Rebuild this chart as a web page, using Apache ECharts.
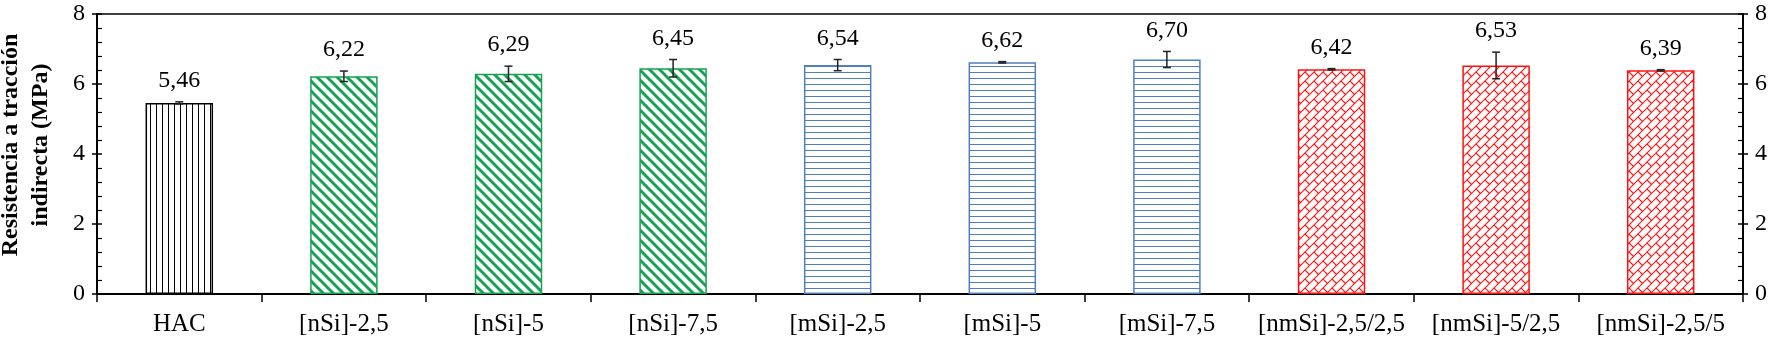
<!DOCTYPE html>
<html>
<head>
<meta charset="utf-8">
<script src="https://cdn.jsdelivr.net/npm/echarts@6/dist/echarts.min.js"></script>
<style>
html,body{margin:0;padding:0;background:#fff;}
#grafico{width:1778px;height:345px;}
</style>
</head>
<body>
<div id="grafico"></div>
<script>
/* datos */
var categorias = ['HAC','[nSi]-2,5','[nSi]-5','[nSi]-7,5','[mSi]-2,5','[mSi]-5','[mSi]-7,5','[nmSi]-2,5/2,5','[nmSi]-5/2,5','[nmSi]-2,5/5'];
var valores = [5.46,6.22,6.29,6.45,6.54,6.62,6.70,6.42,6.53,6.39];
var errores = [0.03,0.15,0.22,0.25,0.16,0.02,0.23,0.02,0.38,0.02];
var grupos = [0,1,1,1,2,2,2,3,3,3];
var ejeY = {min:0, max:8, intervalo:2};

var fuente = "'Liberation Serif','Times New Roman',serif";

/* tramas de relleno */
function trama(tipo, color){
    var c = document.createElement('canvas');
    var ctx = c.getContext('2d');
    var s;
    if(tipo=='vertical'){
        s = 6; c.width = s; c.height = s;
        ctx.fillStyle = color; ctx.fillRect(0,0,1,s);
    }else if(tipo=='horizontal'){
        s = 6; c.width = s; c.height = s;
        ctx.fillStyle = color; ctx.fillRect(0,0,s,1);
    }else if(tipo=='diagonal'){
        s = 10; c.width = s; c.height = s;
        ctx.strokeStyle = color; ctx.lineWidth = 3;
        [-s,0,s].forEach(function(d){
            ctx.beginPath(); ctx.moveTo(d-2,-2); ctx.lineTo(d+s+2,s+2); ctx.stroke();
        });
    }else{
        s = 9; c.width = s; c.height = s;
        ctx.strokeStyle = color; ctx.lineWidth = 1.1;
        [-s,0,s].forEach(function(d){
            ctx.beginPath(); ctx.moveTo(d-2,s+2); ctx.lineTo(d+s+2,-2); ctx.stroke();
        });
        ctx.beginPath(); ctx.moveTo(0,0); ctx.lineTo(s/2,s/2); ctx.stroke();
    }
    return {image:c, repeat:'repeat'};
}

var estilos = [
    {relleno: trama('vertical','#000'), borde:'#000'},
    {relleno: trama('diagonal','#14a352'), borde:'#14a352'},
    {relleno: trama('horizontal','#4f7fbf'), borde:'#4f7fbf'},
    {relleno: trama('ladrillo','#ff1010'), borde:'#ff1010'}
];

var barras = valores.map(function(v,i){
    var e = estilos[grupos[i]];
    return {
        value: v,
        itemStyle: {color: e.relleno, borderColor: e.borde, borderWidth: 1.5}
    };
});

var ejeBase = {
    type: 'value',
    min: ejeY.min,
    max: ejeY.max,
    interval: ejeY.intervalo,
    splitLine: {show:false},
    axisLine: {show:true, lineStyle:{color:'#000', width:1.5}}
};

function copia(o, extra){
    var r = JSON.parse(JSON.stringify(o));
    for(var k in extra){ r[k] = extra[k]; }
    return r;
}

var option = {
    animation: false,
    backgroundColor: '#fff',
    grid: {
        left: 97, right: 35, top: 14, bottom: 51,
        show: true, borderColor: '#000', borderWidth: 1.5
    },
    xAxis: {
        type: 'category',
        data: categorias,
        axisLine: {lineStyle:{color:'#000', width:2}},
        axisTick: {show:true, length:8, lineStyle:{color:'#000', width:1.5}},
        axisLabel: {color:'#000', fontFamily:fuente, fontSize:25, margin:18, interval:0}
    },
    yAxis: [
        copia(ejeBase, {
            position: 'left',
            axisTick: {show:true, inside:false, length:5, lineStyle:{color:'#000', width:1.5}},
            axisLabel: {color:'#000', fontFamily:fuente, fontSize:24, margin:12}
        }),
        copia(ejeBase, {
            position: 'right',
            axisTick: {show:true, inside:false, length:5, lineStyle:{color:'#000', width:1.5}},
            axisLabel: {color:'#000', fontFamily:fuente, fontSize:24, margin:12}
        }),
        copia(ejeBase, {
            position: 'left',
            axisLabel: {show:false},
            axisTick: {show:true, inside:true, length:5, lineStyle:{color:'#000', width:1.5}},
            minorTick: {show:true, splitNumber:5, length:5, lineStyle:{color:'#000', width:1.2}}
        }),
        copia(ejeBase, {
            position: 'right',
            axisLabel: {show:false},
            axisTick: {show:true, inside:true, length:5, lineStyle:{color:'#000', width:1.5}},
            minorTick: {show:true, splitNumber:5, length:5, lineStyle:{color:'#000', width:1.2}}
        })
    ],
    graphic: [{
        type: 'text',
        x: 26,
        y: 145,
        rotation: Math.PI/2,
        style: {
            text: 'Resistencia a tracción\nindirecta (MPa)',
            font: 'bold 24px ' + fuente,
            fill: '#000',
            align: 'center',
            verticalAlign: 'middle',
            lineHeight: 30
        }
    }],
    series: [
        {
            name: 'resistencia',
            type: 'bar',
            yAxisIndex: 0,
            barWidth: '41%',
            data: barras
        },
        {
            name: 'error',
            type: 'custom',
            yAxisIndex: 0,
            data: valores.map(function(v,i){ return [i, v, errores[i]]; }),
            renderItem: function(params, api){
                var i = api.value(0), v = api.value(1), e = api.value(2);
                var arriba = api.coord([i, v+e]);
                var abajo = api.coord([i, v-e]);
                var x = arriba[0], w = 4;
                var trazo = {stroke:'#222', lineWidth:1.5};
                return {
                    type: 'group',
                    children: [
                        {type:'line', shape:{x1:x, y1:arriba[1], x2:x, y2:abajo[1]}, style:trazo},
                        {type:'line', shape:{x1:x-w, y1:arriba[1], x2:x+w, y2:arriba[1]}, style:trazo},
                        {type:'line', shape:{x1:x-w, y1:abajo[1], x2:x+w, y2:abajo[1]}, style:trazo},
                        {type:'text', x:x, y:arriba[1]-9, style:{
                            text: v.toFixed(2).replace('.', ','),
                            font: '24px ' + fuente,
                            fill: '#000',
                            align: 'center',
                            verticalAlign: 'bottom'
                        }}
                    ]
                };
            },
            z: 5
        }
    ]
};

var grafico = echarts.init(document.getElementById('grafico'));
grafico.setOption(option);
</script>
</body>
</html>
